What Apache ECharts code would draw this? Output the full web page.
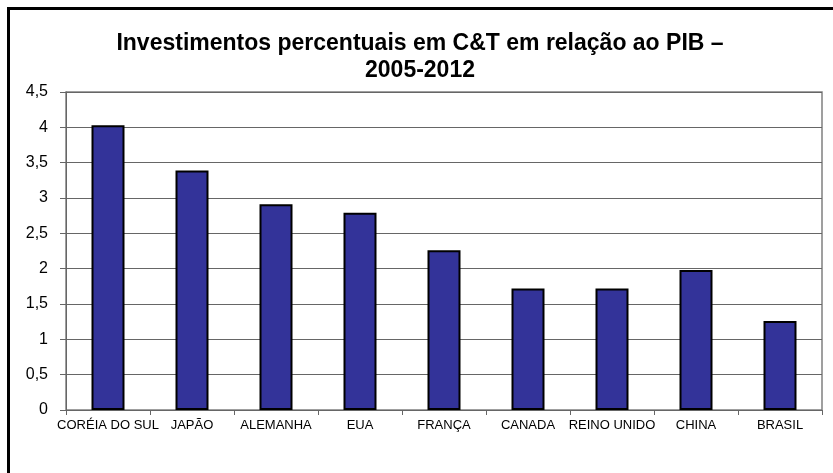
<!DOCTYPE html>
<html>
<head>
<meta charset="utf-8">
<script src="https://cdn.jsdelivr.net/npm/echarts@6/dist/echarts.min.js"></script>
<style>
html,body{margin:0;padding:0;background:#fff;}
#chart{width:833px;height:473px;}
</style>
</head>
<body>
<div id="chart"></div>
<script>
const titleLines = ['Investimentos percentuais em C&T em relação ao PIB –', '2005-2012'];
const categories = ['CORÉIA DO SUL', 'JAPÃO', 'ALEMANHA', 'EUA', 'FRANÇA', 'CANADA', 'REINO UNIDO', 'CHINA', 'BRASIL'];
const values = [4.03, 3.39, 2.91, 2.79, 2.26, 1.72, 1.72, 1.98, 1.26];
const yMin = 0, yMax = 4.5, yStep = 0.5;

const chart = echarts.init(document.getElementById('chart'), null, {renderer: 'canvas'});
const font = "'Liberation Sans', Arial, sans-serif";
const gridColor = '#666666';

chart.setOption({
  backgroundColor: '#ffffff',
  animation: false,
  graphic: [
    {type: 'rect', shape: {x: 7, y: 7, width: 826, height: 3}, style: {fill: '#000'}},
    {type: 'rect', shape: {x: 7, y: 7, width: 3, height: 466}, style: {fill: '#000'}},
    {type: 'text', x: 420, y: 30, style: {
      text: titleLines.join('\n'), textAlign: 'center', textVerticalAlign: 'top',
      fontFamily: font, fontWeight: 'bold', fontSize: 23, lineHeight: 27, fill: '#000'
    }}
  ],
  grid: {left: 66, right: 11, top: 92, bottom: 63, containLabel: false,
    show: true, borderColor: '#808080', borderWidth: 1.5},
  xAxis: {
    type: 'category',
    data: categories,
    axisLine: {lineStyle: {color: gridColor, width: 1}},
    axisTick: {show: true, length: 5, lineStyle: {color: gridColor}},
    axisLabel: {interval: 0, color: '#000', fontFamily: font, fontSize: 13, margin: 9}
  },
  yAxis: {
    type: 'value',
    min: yMin, max: yMax, interval: yStep,
    axisLine: {show: true, lineStyle: {color: gridColor, width: 1}},
    axisTick: {show: true, length: 6, lineStyle: {color: gridColor}},
    splitLine: {show: true, lineStyle: {color: gridColor, width: 1}},
    axisLabel: {color: '#000', fontFamily: font, fontSize: 16, margin: 18,
      formatter: v => String(v).replace('.', ',')}
  },
  series: [{
    type: 'bar',
    data: values,
    barWidth: 33,
    itemStyle: {color: '#333399', borderColor: '#000', borderWidth: 2}
  }]
});
</script>
</body>
</html>
